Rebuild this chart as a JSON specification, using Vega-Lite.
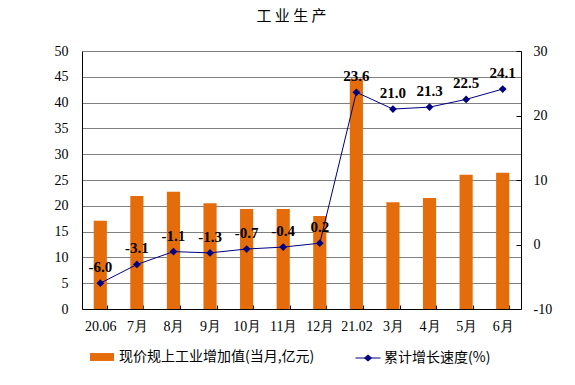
{
  "$schema": "https://vega.github.io/schema/vega-lite/v6.json",
  "width": 439,
  "height": 258,
  "autosize": "none",
  "padding": {"left": 82, "top": 51, "right": 54, "bottom": 76},
  "background": "white",
  "title": {
    "text": "工 业 生 产",
    "font": "Noto Sans CJK SC",
    "fontSize": 15,
    "fontWeight": "normal",
    "color": "black",
    "anchor": "middle",
    "offset": 20,
    "dx": -10
  },
  "config": {
    "view": {"stroke": null},
    "axis": {
      "labelFont": "Liberation Serif, Times New Roman, serif",
      "labelFontSize": 14,
      "labelColor": "black",
      "domainColor": "black",
      "tickColor": "black",
      "gridColor": "#808080",
      "title": null
    }
  },
  "data": {
    "values": [
      {"month": "20.06", "value": 17.1, "growth": -6.0, "label": "-6.0"},
      {"month": "7月", "value": 21.9, "growth": -3.1, "label": "-3.1"},
      {"month": "8月", "value": 22.7, "growth": -1.1, "label": "-1.1"},
      {"month": "9月", "value": 20.5, "growth": -1.3, "label": "-1.3"},
      {"month": "10月", "value": 19.4, "growth": -0.7, "label": "-0.7"},
      {"month": "11月", "value": 19.4, "growth": -0.4, "label": "-0.4"},
      {"month": "12月", "value": 18.0, "growth": 0.2, "label": "0.2"},
      {"month": "21.02", "value": 44.6, "growth": 23.6, "label": "23.6"},
      {"month": "3月", "value": 20.7, "growth": 21.0, "label": "21.0"},
      {"month": "4月", "value": 21.5, "growth": 21.3, "label": "21.3"},
      {"month": "5月", "value": 26.0, "growth": 22.5, "label": "22.5"},
      {"month": "6月", "value": 26.4, "growth": 24.1, "label": "24.1"}
    ]
  },
  "encoding": {
    "x": {
      "field": "month",
      "type": "nominal",
      "sort": null,
      "scale": {"paddingInner": 0.64, "paddingOuter": 0.32},
      "axis": {
        "labelAngle": 0,
        "tickBand": "extent",
        "tickSize": -4,
        "labelPadding": 14
      }
    }
  },
  "layer": [
    {
      "mark": {"type": "bar"},
      "encoding": {
        "y": {
          "field": "value",
          "type": "quantitative",
          "scale": {"domain": [0, 50], "nice": false},
          "axis": {
            "orient": "left",
            "values": [0, 5, 10, 15, 20, 25, 30, 35, 40, 45, 50],
            "grid": true,
            "ticks": false,
            "labelPadding": 14
          }
        },
        "color": {
          "datum": "现价规上工业增加值(当月,亿元)",
          "scale": {"range": ["#E46C0A"]},
          "legend": {
            "orient": "none",
            "legendX": 8,
            "legendY": 294,
            "padding": 0,
            "title": null,
            "symbolType": "M-1,-0.33H1V0.33H-1Z",
            "symbolSize": 576,
            "symbolStrokeWidth": 0,
            "labelFont": "Noto Sans CJK SC",
            "labelFontSize": 14,
            "labelColor": "black",
            "labelOffset": 5,
            "labelLimit": 400
          }
        }
      }
    },
    {
      "layer": [
        {
          "mark": {"type": "line", "strokeWidth": 1},
          "encoding": {
            "y": {
              "field": "growth",
              "type": "quantitative",
              "scale": {"domain": [-10, 30], "nice": false},
              "axis": {
                "orient": "right",
                "values": [-10, -5, 0, 5, 10, 15, 20, 25, 30],
                "format": "d",
                "grid": false,
                "tickSize": -5,
                "labelPadding": 17,
                "labelExpr": "replace(datum.label, '−', '-')"
              }
            },
            "stroke": {
              "datum": "累计增长速度(%)",
              "scale": {"range": ["#000080"]},
              "legend": {
                "orient": "none",
                "legendX": 273,
                "legendY": 294,
                "padding": 0,
                "title": null,
                "symbolType": "M-1,0H1M-0.28,0L0,-0.25L0.28,0L0,0.25Z",
                "symbolSize": 625,
                "symbolStrokeWidth": 1,
                "symbolFillColor": "#000080",
                "symbolStrokeColor": "#000080",
                "labelFont": "Noto Sans CJK SC",
                "labelFontSize": 14,
                "labelColor": "black",
                "labelOffset": 3,
                "labelLimit": 400,
                "encode": {"symbols": {"update": {"fill": {"value": "#000080"}, "stroke": {"value": "#000080"}}}}
              }
            }
          }
        },
        {
          "mark": {"type": "point", "shape": "diamond", "filled": true, "size": 60, "color": "#000080", "opacity": 1},
          "encoding": {
            "y": {"field": "growth", "type": "quantitative"}
          }
        },
        {
          "mark": {"type": "text", "dy": -16, "font": "Liberation Serif, Times New Roman, serif", "fontSize": 15, "fontWeight": "bold", "color": "black"},
          "encoding": {
            "y": {"field": "growth", "type": "quantitative"},
            "text": {"field": "label", "type": "nominal"}
          }
        }
      ]
    }
  ],
  "resolve": {"scale": {"y": "independent", "color": "independent"}}
}
